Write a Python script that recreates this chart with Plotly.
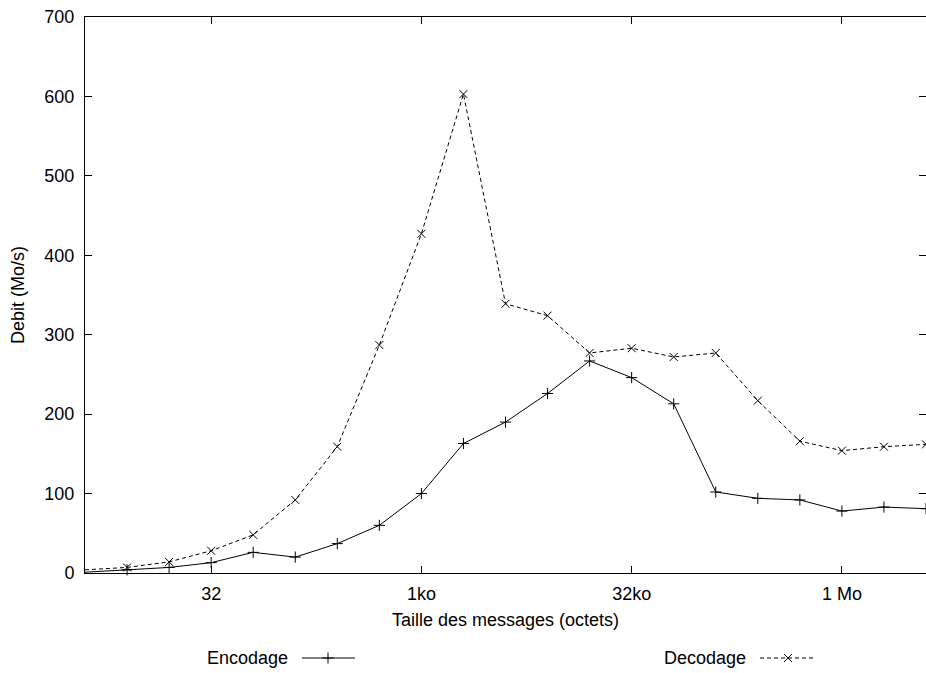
import math
import plotly.graph_objects as go

# Data
sizes = [2**k for k in range(2, 23)]
encodage = [1, 4, 7, 13, 26, 20, 37, 60, 100, 163, 190, 226, 267, 246, 213,
            102, 94, 92, 78, 83, 81]
decodage = [4, 7, 14, 28, 48, 92, 159, 287, 427, 603, 339, 324, 277, 283, 272,
            277, 217, 166, 154, 159, 162]
x_tickvals = [32, 1024, 32768, 1048576]
x_ticktext = ["32", "1ko", "32ko", "1 Mo"]
y_tickvals = [0, 100, 200, 300, 400, 500, 600, 700]
series_names = ["Encodage", "Decodage"]

W, H = 926, 673
FONT = "Liberation Sans, Arial, sans-serif"
FS = 18
DASH = "4px,3px"

enc_marker = dict(symbol="cross-thin-open", size=8, color="black",
                  line=dict(color="black", width=1))
dec_marker = dict(symbol="x-thin-open", size=8, color="black",
                  line=dict(color="black", width=1))

fig = go.Figure()
fig.add_trace(go.Scatter(
    x=sizes, y=encodage, mode="lines+markers", name=series_names[0],
    line=dict(color="black", width=1), marker=enc_marker,
    showlegend=False, cliponaxis=False))
fig.add_trace(go.Scatter(
    x=sizes, y=decodage, mode="lines+markers", name=series_names[1],
    line=dict(color="black", width=1, dash=DASH), marker=dec_marker,
    showlegend=False, cliponaxis=False))

# Legend samples drawn on an overlay axis in pixel units
fig.add_trace(go.Scatter(
    x=[302, 355], y=[658, 658], mode="lines", xaxis="x2", yaxis="y2",
    line=dict(color="black", width=1), showlegend=False, hoverinfo="skip"))
fig.add_trace(go.Scatter(
    x=[328], y=[658], mode="markers", xaxis="x2", yaxis="y2",
    marker=enc_marker, showlegend=False, hoverinfo="skip"))
fig.add_trace(go.Scatter(
    x=[760, 815], y=[658, 658], mode="lines", xaxis="x2", yaxis="y2",
    line=dict(color="black", width=1, dash=DASH), showlegend=False, hoverinfo="skip"))
fig.add_trace(go.Scatter(
    x=[788], y=[658], mode="markers", xaxis="x2", yaxis="y2",
    marker=dec_marker, showlegend=False, hoverinfo="skip"))

fig.update_layout(
    width=W, height=H,
    margin=dict(l=0, r=0, t=0, b=0, pad=0, autoexpand=False),
    paper_bgcolor="white", plot_bgcolor="rgba(0,0,0,0)",
    font=dict(family=FONT, size=FS, color="black"),
    xaxis=dict(
        type="log", domain=[85 / W, 1.0],
        range=[math.log10(4), math.log10(2**22)],
        tickvals=x_tickvals, ticktext=x_ticktext,
        ticks="inside", ticklen=7, tickwidth=1, tickcolor="black",
        showline=True, linecolor="black", linewidth=1, mirror="allticks",
        showgrid=False, zeroline=False, ticklabelstandoff=4, automargin=False,
        title=dict(text="Taille des messages (octets)", standoff=10,
                   font=dict(family=FONT, size=FS)),
        anchor="y",
    ),
    yaxis=dict(
        domain=[1 - 573 / H, 1 - 17 / H],
        range=[0, 700], tickvals=y_tickvals,
        ticks="inside", ticklen=7, tickwidth=1, tickcolor="black",
        showline=True, linecolor="black", linewidth=1, mirror="allticks",
        showgrid=False, zeroline=False, ticklabelstandoff=6, automargin=False,
        title=dict(text="Debit (Mo/s)", standoff=15,
                   font=dict(family=FONT, size=FS)),
        anchor="x",
    ),
    xaxis2=dict(domain=[0, 1], range=[0, W], visible=False, anchor="y2",
                automargin=False),
    yaxis2=dict(domain=[0, 1], range=[H, 0], visible=False, anchor="x2",
                automargin=False),
    annotations=[
        dict(text=series_names[0], x=290, y=658, xref="x2", yref="y2",
             xanchor="right", yanchor="middle", showarrow=False,
             font=dict(family=FONT, size=FS)),
        dict(text=series_names[1], x=748, y=658, xref="x2", yref="y2",
             xanchor="right", yanchor="middle", showarrow=False,
             font=dict(family=FONT, size=FS)),
    ],
)

fig.write_html(
    "out.html",
    config={"displayModeBar": False},
    post_script="document.body.style.margin='0';document.body.style.overflow='hidden';",
)
